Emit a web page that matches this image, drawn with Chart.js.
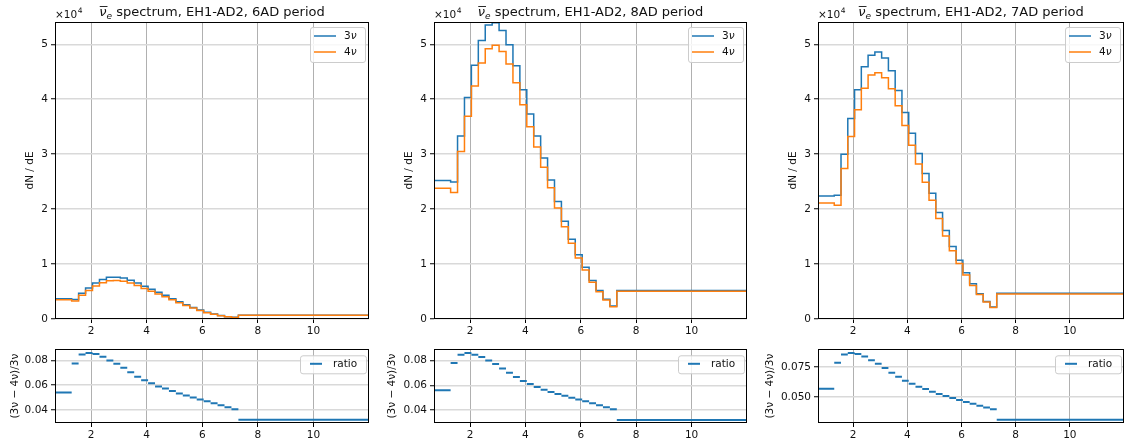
<!DOCTYPE html>
<html>
<head>
<meta charset="utf-8">
<title>nue spectrum, EH1-AD2</title>
<script src="https://cdn.jsdelivr.net/npm/chart.js@4.4.1/dist/chart.umd.min.js"></script>
<style>
  html, body { margin: 0; padding: 0; background: #fff; }
  #figure { position: relative; width: 1125px; height: 440px; overflow: hidden; }
  .panel { position: absolute; }
</style>
</head>
<body>
<div id="figure"></div>
<script>
// Binning (MeV): 0.7-1.3, 24 bins of 0.25 up to 7.3, then 7.3-12
const binEdges = [0.7, 1.3, 1.55, 1.8, 2.05, 2.3, 2.55, 2.8, 3.05, 3.3, 3.55, 3.8, 4.05,
  4.3, 4.55, 4.8, 5.05, 5.3, 5.55, 5.8, 6.05, 6.3, 6.55, 6.8, 7.05, 7.3, 12];
const xTicks = [2, 4, 6, 8, 10];
const specTicks = [0, 10000, 20000, 30000, 40000, 50000];

// 6AD period
const spec3nu6AD = [3700, 3550, 4700, 5650, 6550, 7200, 7600, 7620, 7450, 7050, 6550, 5950, 5400,
  4850, 4300, 3700, 3150, 2600, 2100, 1640, 1220, 900, 620, 420, 300, 680];
const spec4nu6AD = [3500, 3270, 4300, 5170, 6000, 6600, 6970, 7000, 6880, 6560, 6110, 5570, 5070,
  4570, 4050, 3500, 2980, 2470, 2000, 1560, 1160, 860, 590, 400, 290, 660];
const ratio6AD = [0.0541, 0.0776, 0.0848, 0.0861, 0.0851, 0.0829, 0.0800, 0.0773, 0.0741, 0.0704,
  0.0669, 0.0640, 0.0616, 0.0589, 0.0573, 0.0552, 0.0533, 0.0517, 0.0501, 0.0485, 0.0469, 0.0453,
  0.0437, 0.0421, 0.0405, 0.0320];
const ratioTicks6AD = [0.04, 0.06, 0.08];

// 8AD period
const spec3nu8AD = [25200, 24950, 33300, 40300, 46200, 50700, 53500, 53900, 52500, 49900, 46100,
  41700, 37300, 33300, 29300, 25300, 21400, 17800, 14500, 11700, 9400, 7000, 5200, 3600, 2350, 5200];
const spec4nu8AD = [23800, 23000, 30500, 36900, 42400, 46600, 49200, 49800, 48700, 46400, 43000,
  39000, 35000, 31300, 27600, 23900, 20200, 16800, 13800, 11100, 8900, 6700, 4950, 3450, 2250, 5050];
const ratio8AD = [0.0560, 0.0781, 0.0848, 0.0861, 0.0848, 0.0829, 0.0800, 0.0773, 0.0736, 0.0701,
  0.0667, 0.0635, 0.0611, 0.0587, 0.0565, 0.0547, 0.0531, 0.0515, 0.0499, 0.0485, 0.0472, 0.0456,
  0.0440, 0.0424, 0.0408, 0.0320];
const ratioTicks8AD = [0.04, 0.06, 0.08];

// 7AD period
const spec3nu7AD = [22400, 22500, 30000, 36500, 41700, 45900, 48000, 48600, 47500, 45200, 41600,
  37600, 33800, 30100, 26500, 22900, 19400, 16100, 13200, 10700, 8400, 6400, 4600, 3200, 2200, 4700];
const spec4nu7AD = [21100, 20700, 27400, 33200, 38100, 42000, 44400, 44800, 43900, 41900, 38800,
  35200, 31600, 28200, 24900, 21600, 18300, 15100, 12400, 10100, 8000, 6100, 4450, 3100, 2100, 4550];
const ratio7AD = [0.0569, 0.0786, 0.0856, 0.0869, 0.0861, 0.0839, 0.0808, 0.0778, 0.0742, 0.0703,
  0.0669, 0.0636, 0.0611, 0.0586, 0.0567, 0.0544, 0.0525, 0.0508, 0.0492, 0.0475, 0.0458, 0.0442,
  0.0425, 0.0411, 0.0397, 0.0308];
const ratioTicks7AD = [0.050, 0.075];

// Colours
const blue = "#1f77b4";
const orange = "#ff7f0e";
const fontFamily = '"DejaVu Sans", sans-serif';

Chart.defaults.font.family = fontFamily;
Chart.defaults.font.size = 10.5;
Chart.defaults.color = "#111";

// Layout of the three columns (pixel positions of the axes boxes)
const columns = [
  {period: "6AD", nu3: spec3nu6AD, nu4: spec4nu6AD, ratio: ratio6AD, ratioTicks: ratioTicks6AD,
    ratioDigits: 2, ratioMin: 0.0294, ratioMax: 0.0890, left: 55, right: 369, ratioAxisW: 46, padR: 4},
  {period: "8AD", nu3: spec3nu8AD, nu4: spec4nu8AD, ratio: ratio8AD, ratioTicks: ratioTicks8AD,
    ratioDigits: 2, ratioMin: 0.0296, ratioMax: 0.0891, left: 434, right: 747, ratioAxisW: 48, padR: 4},
  {period: "7AD", nu3: spec3nu7AD, nu4: spec4nu7AD, ratio: ratio7AD, ratioTicks: ratioTicks7AD,
    ratioDigits: 3, ratioMin: 0.0281, ratioMax: 0.0900, left: 818, right: 1124, ratioAxisW: 54, padR: 1}
];

// histogram drawn as a step line: value i holds from edge i to edge i+1
function stepPoints(values) {
  const pts = [{x: binEdges[0], y: 0}];
  values.forEach((v, i) => pts.push({x: binEdges[i], y: v}));
  pts.push({x: binEdges[binEdges.length - 1], y: values[values.length - 1]});
  return pts;
}

// one horizontal segment per bin, with gaps in between
function segmentPoints(values) {
  const pts = [];
  values.forEach((v, i) => {
    pts.push({x: binEdges[i], y: v}, {x: binEdges[i + 1], y: v}, {x: binEdges[i + 1], y: null});
  });
  return pts;
}

function drawNuLabel(ctx, x, y, digit) {
  ctx.font = "10.5px " + fontFamily;
  ctx.fillText(digit, x, y);
  x += ctx.measureText(digit).width;
  ctx.font = "italic 10.5px " + fontFamily;
  ctx.fillText("\u03bd", x, y);
}

function legendFrame(ctx, left, top, w, h) {
  ctx.fillStyle = "rgba(255,255,255,0.8)";
  ctx.strokeStyle = "#cccccc";
  ctx.lineWidth = 1;
  ctx.beginPath();
  ctx.roundRect(left + 0.5, top + 0.5, w, h, 2.5);
  ctx.fill();
  ctx.stroke();
}

// matplotlib-like decorations: frame, title, offset text and legend
const mplDecor = {
  id: "mplDecor",
  afterDraw(chart, args, opts) {
    const ctx = chart.ctx;
    const area = chart.chartArea;
    ctx.save();

    // axes frame
    ctx.strokeStyle = "#000";
    ctx.lineWidth = 1;
    ctx.strokeRect(Math.round(area.left) + 0.5, Math.round(area.top) + 0.5,
      Math.round(area.right - area.left) - 1, Math.round(area.bottom - area.top) - 1);

    ctx.fillStyle = "#111";
    ctx.textBaseline = "alphabetic";

    if (opts.title) {
      const rest = " spectrum, EH1-AD2, " + opts.title + " period";
      ctx.font = "italic 13px " + fontFamily;
      const wNu = ctx.measureText("\u03bd").width;
      ctx.font = "italic 9px " + fontFamily;
      const wE = ctx.measureText("e").width;
      ctx.font = "13px " + fontFamily;
      const wRest = ctx.measureText(rest).width;
      let x = (area.left + area.right) / 2 - (wNu + wE + wRest) / 2;
      const base = 16;
      ctx.font = "italic 13px " + fontFamily;
      ctx.fillText("\u03bd", x, base);
      ctx.fillRect(x + 0.5, base - 10, wNu + 0.5, 0.9);
      ctx.font = "italic 9px " + fontFamily;
      ctx.fillText("e", x + wNu, base + 2.5);
      ctx.font = "13px " + fontFamily;
      ctx.fillText(rest, x + wNu + wE, base);
    }

    if (opts.offsetText) {
      ctx.font = "10.5px " + fontFamily;
      ctx.fillText("\u00d710", area.left, 18);
      const w = ctx.measureText("\u00d710").width;
      ctx.font = "7.5px " + fontFamily;
      ctx.fillText("4", area.left + w + 0.5, 13);
    }

    if (opts.legend === "spectrum") {
      const w = 55, h = 35;
      const left = area.right - 4 - w, top = area.top + 5;
      legendFrame(ctx, left, top, w, h);
      [[blue, "3", 9], [orange, "4", 25]].forEach(([color, digit, dy]) => {
        ctx.strokeStyle = color;
        ctx.lineWidth = 1.5;
        ctx.beginPath();
        ctx.moveTo(left + 4, top + dy);
        ctx.lineTo(left + 26, top + dy);
        ctx.stroke();
        ctx.fillStyle = "#111";
        ctx.textBaseline = "middle";
        drawNuLabel(ctx, left + 34, top + dy + 0.5, digit);
      });
    }

    if (opts.legend === "ratio") {
      const w = 66, h = 18;
      const left = area.right - 3 - w, top = area.top + 6;
      legendFrame(ctx, left, top, w, h);
      ctx.strokeStyle = blue;
      ctx.lineWidth = 2;
      ctx.beginPath();
      ctx.moveTo(left + 10, top + 8.5);
      ctx.lineTo(left + 22, top + 8.5);
      ctx.stroke();
      ctx.fillStyle = "#111";
      ctx.textBaseline = "middle";
      ctx.font = "10.5px " + fontFamily;
      ctx.fillText("ratio", left + 33, top + 9);
    }
    ctx.restore();
  }
};

const xGrid = {color: "#b0b0b0", lineWidth: 1, tickColor: "#000", tickLength: 4, tickWidth: 1};
const yGrid = {color: "#d9d9d9", lineWidth: 1.5, tickColor: "#000", tickLength: 4, tickWidth: 1};

function xScale(height) {
  return {
    type: "linear",
    min: 0.7,
    max: 12,
    afterFit: (s) => { s.height = height; },
    afterBuildTicks: (s) => { s.ticks = xTicks.map(v => ({value: v})); },
    ticks: {callback: (v) => String(v), maxRotation: 0, autoSkip: false, padding: 2},
    grid: xGrid,
    border: {display: false}
  };
}

const common = {
  responsive: true,
  maintainAspectRatio: false,
  animation: false,
  events: []
};

function addPanel(left, top, width, height) {
  const div = document.createElement("div");
  div.className = "panel";
  div.style.left = left + "px";
  div.style.top = top + "px";
  div.style.width = width + "px";
  div.style.height = height + "px";
  div.appendChild(document.createElement("canvas"));
  document.getElementById("figure").appendChild(div);
  return div.querySelector("canvas");
}

function makeSpectrum(col) {
  const yw = 31;
  const canvas = addPanel(col.left - yw, 0, col.right - col.left + yw + col.padR, 345);
  new Chart(canvas, {
    type: "line",
    data: {
      datasets: [
        {label: "3\u03bd", data: stepPoints(col.nu3), borderColor: blue, order: 2},
        {label: "4\u03bd", data: stepPoints(col.nu4), borderColor: orange, order: 1}
      ].map(d => Object.assign(d, {stepped: "before", pointRadius: 0, borderWidth: 1.5, fill: false}))
    },
    options: Object.assign({}, common, {
      layout: {padding: {top: 22, right: col.padR, left: 0, bottom: 0}},
      scales: {
        x: xScale(26),
        y: {
          type: "linear",
          min: 0,
          max: 54050,
          afterFit: (s) => { s.width = yw; },
          afterBuildTicks: (s) => { s.ticks = specTicks.map(v => ({value: v})); },
          ticks: {callback: (v) => String(v / 10000), padding: 3},
          grid: yGrid,
          border: {display: false},
          title: {display: true, text: "dN / dE", padding: 0}
        }
      },
      plugins: {
        legend: {display: false},
        tooltip: {enabled: false},
        mplDecor: {title: col.period, offsetText: true, legend: "spectrum"}
      }
    }),
    plugins: [mplDecor]
  });
}

function makeRatio(col) {
  const yw = col.ratioAxisW;
  const canvas = addPanel(col.left - yw, 340, col.right - col.left + yw + col.padR, 100);
  new Chart(canvas, {
    type: "line",
    data: {
      datasets: [{
        label: "ratio",
        data: segmentPoints(col.ratio),
        borderColor: blue,
        borderWidth: 2,
        pointRadius: 0,
        spanGaps: false,
        fill: false
      }]
    },
    options: Object.assign({}, common, {
      layout: {padding: {top: 9, right: col.padR, left: 0, bottom: 0}},
      scales: {
        x: xScale(17),
        y: {
          type: "linear",
          min: col.ratioMin,
          max: col.ratioMax,
          afterFit: (s) => { s.width = yw; },
          afterBuildTicks: (s) => { s.ticks = col.ratioTicks.map(v => ({value: v})); },
          ticks: {callback: (v) => v.toFixed(col.ratioDigits), padding: 3},
          grid: yGrid,
          border: {display: false},
          title: {display: true, text: "(3\u03bd \u2212 4\u03bd)/3\u03bd", padding: 0}
        }
      },
      plugins: {
        legend: {display: false},
        tooltip: {enabled: false},
        mplDecor: {legend: "ratio"}
      }
    }),
    plugins: [mplDecor]
  });
}

columns.forEach(col => {
  makeSpectrum(col);
  makeRatio(col);
});
</script>
</body>
</html>
